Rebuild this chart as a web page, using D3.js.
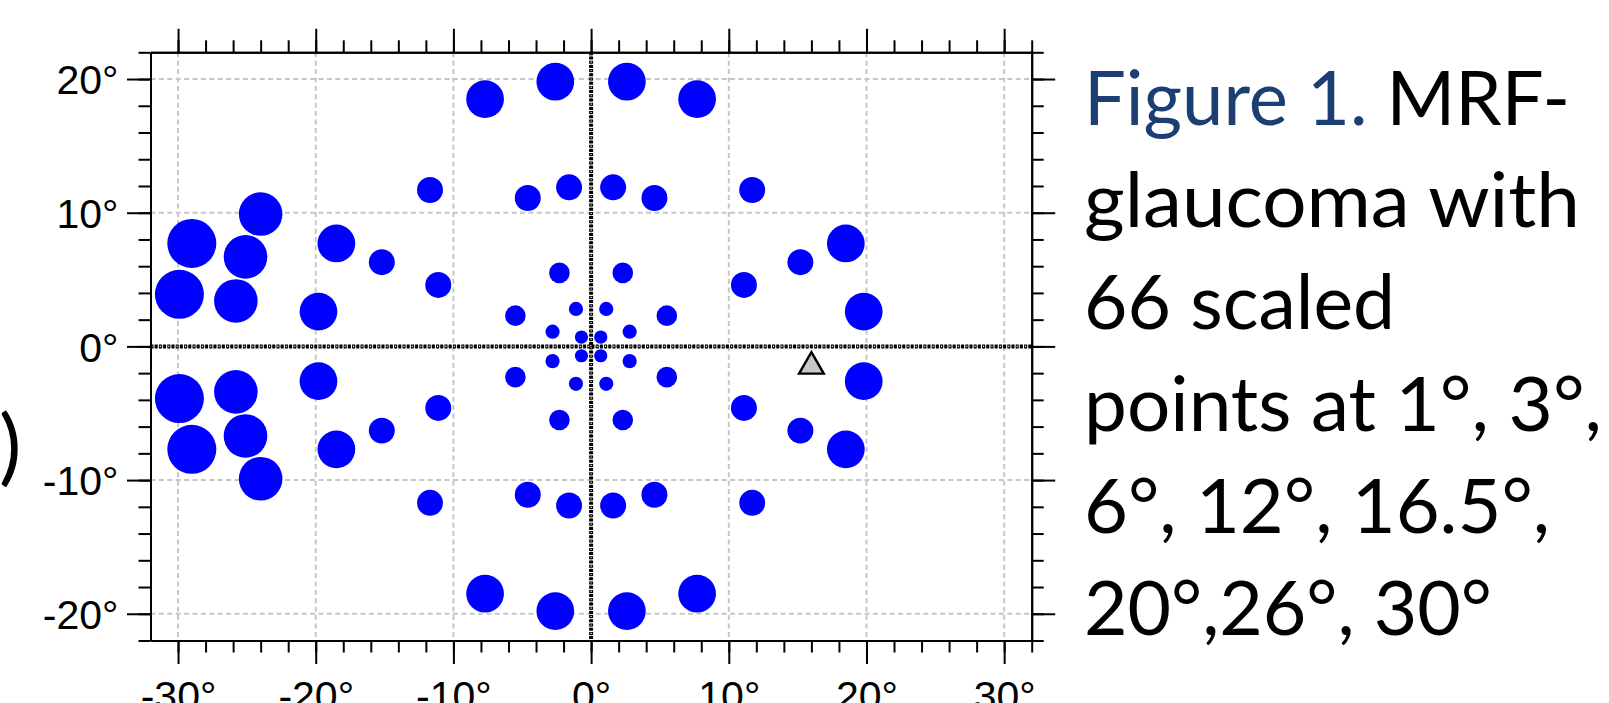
<!DOCTYPE html>
<html><head><meta charset="utf-8">
<script src="https://cdn.jsdelivr.net/npm/d3@7"></script>
<style>html,body{margin:0;padding:0;background:#fff;overflow:hidden}</style>
</head><body>
<svg id="chart" width="1609" height="703"></svg>
<script>
// ---- data ----
const ptX = [
  0.7,-0.7,-0.7,0.7,
  2.8,1.1,-1.1,-2.8,-2.8,-1.1,1.1,2.8,
  5.5,2.3,-2.3,-5.5,-5.5,-2.3,2.3,5.5,
  11.1,4.6,1.6,-1.6,-4.6,-11.1,-11.1,-4.6,-1.6,1.6,4.6,11.1,
  11.7,15.2,-11.7,-15.2,-15.2,-11.7,11.7,15.2,
  19.8,18.5,7.7,2.6,-2.6,-7.7,-18.5,-19.8,-19.8,-18.5,-7.7,-2.6,2.6,7.7,18.5,19.8,
  -24.0,-25.1,-25.8,-25.8,-25.1,-24.0,
  -29.0,-29.9,-29.9,-29.0
];
const ptY = [
  0.7,0.7,-0.7,-0.7,
  1.1,2.8,2.8,1.1,-1.1,-2.8,-2.8,-1.1,
  2.3,5.5,5.5,2.3,-2.3,-5.5,-5.5,-2.3,
  4.6,11.1,11.9,11.9,11.1,4.6,-4.6,-11.1,-11.9,-11.9,-11.1,-4.6,
  11.7,6.3,11.7,6.3,-6.3,-11.7,-11.7,-6.3,
  2.6,7.7,18.5,19.8,19.8,18.5,7.7,2.6,-2.6,-7.7,-18.5,-19.8,-19.8,-18.5,-7.7,-2.6,
  9.9,6.7,3.4,-3.4,-6.7,-9.9,
  7.7,3.9,-3.9,-7.7
];
const ptSize = [
  2.7,2.7,2.7,2.7,
  2.9,2.9,2.9,2.9,2.9,2.9,2.9,2.9,
  4.2,4.2,4.2,4.2,4.2,4.2,4.2,4.2,
  5.3,5.3,5.3,5.3,5.3,5.3,5.3,5.3,5.3,5.3,5.3,5.3,
  5.3,5.3,5.3,5.3,5.3,5.3,5.3,5.3,
  7.7,7.7,7.7,7.7,7.7,7.7,7.7,7.7,7.7,7.7,7.7,7.7,7.7,7.7,7.7,7.7,
  8.9,8.9,8.9,8.9,8.9,8.9,
  10,10,10,10
];
const markerX = [16];
const markerY = [-1.5];

const xMajorTicks = [-30,-20,-10,0,10,20,30];
const xTickLabels = ["-30°","-20°","-10°","0°","10°","20°","30°"];
const yMajorTicks = [-20,-10,0,10,20];
const yTickLabels = ["-20°","-10°","0°","10°","20°"];
const xMinorTicks = [-30,-28,-26,-24,-22,-20,-18,-16,-14,-12,-10,-8,-6,-4,-2,0,2,4,6,8,10,12,14,16,18,20,22,24,26,28,30,32];
const yMinorTicks = [-22,-20,-18,-16,-14,-12,-10,-8,-6,-4,-2,0,2,4,6,8,10,12,14,16,18,20,22];
const gridX = [-30,-20,-10,10,20,30];
const gridY = [-20,-10,10,20];
const zeroLines = [0];

const captionLines = [
  [{t:"Figure 1.", c:"#1b3f73"}, {t:" MRF-", c:"#000"}],
  [{t:"glaucoma with", c:"#000"}],
  [{t:"66 scaled", c:"#000"}],
  [{t:"points at 1°, 3°,", c:"#000"}],
  [{t:"6°, 12°, 16.5°,", c:"#000"}],
  [{t:"20°,26°, 30°", c:"#000"}]
];
const captionWidths = [486, 496, 311, 518, 466, 408];

// ---- layout ----
const svg = d3.select("#chart");
const L = 150.5, R = 1031.7, T = 52.3, B = 640.5;
const x = d3.scaleLinear().domain([-32, 32]).range([L, R]);
const y = d3.scaleLinear().domain([-22, 22]).range([B, T]);
const r = d3.scaleLinear().domain([0, 10]).range([0, 24.5]);

const gridColor = "#c6c6c6";
const g = svg.append("g");

// grid
g.selectAll(".gx").data(gridX.concat(zeroLines)).enter().append("line")
  .attr("x1", d => x(d)).attr("x2", d => x(d)).attr("y1", T).attr("y2", B)
  .attr("stroke", gridColor).attr("stroke-width", 2).attr("stroke-dasharray", "5,3.4");
g.selectAll(".gy").data(gridY.concat(zeroLines)).enter().append("line")
  .attr("y1", d => y(d)).attr("y2", d => y(d)).attr("x1", L).attr("x2", R)
  .attr("stroke", gridColor).attr("stroke-width", 2).attr("stroke-dasharray", "5,3.4");

// dotted zero lines
const zl = g.append("g");
function zeroV(sel, color, w, dash, off) {
  sel.selectAll(null).data(zeroLines).enter().append("line")
    .attr("x1", d => x(d)).attr("x2", d => x(d)).attr("y1", T).attr("y2", B)
    .attr("stroke", color).attr("stroke-width", w).attr("stroke-dasharray", dash).attr("stroke-dashoffset", off);
}
function zeroH(sel, color, w, dash, off) {
  sel.selectAll(null).data(zeroLines).enter().append("line")
    .attr("y1", d => y(d)).attr("y2", d => y(d)).attr("x1", L).attr("x2", R)
    .attr("stroke", color).attr("stroke-width", w).attr("stroke-dasharray", dash).attr("stroke-dashoffset", off);
}
zeroV(zl, "#000", 4, "3,1.2", 0);
zeroH(zl, "#000", 4, "3,1.2", 0);
zeroV(zl, "#fff", 1.2, "1.1,7.3", -0.9);
zeroH(zl, "#fff", 1.2, "1.1,7.3", -0.9);

// points
g.selectAll(".pt").data(d3.range(ptX.length)).enter().append("circle")
  .attr("cx", i => x(ptX[i])).attr("cy", i => y(ptY[i])).attr("r", i => r(ptSize[i]))
  .attr("fill", "#0000ff");

// triangle marker
g.selectAll(".tri").data(d3.range(markerX.length)).enter().append("path")
  .attr("d", d3.symbol(d3.symbolTriangle).size(265))
  .attr("transform", i => `translate(${x(markerX[i])},${y(markerY[i])})`)
  .attr("fill", "#c8c8c8").attr("stroke", "#000").attr("stroke-width", 2.4).attr("stroke-linejoin", "miter");

// axes
const fontAx = "'Liberation Sans', Arial, sans-serif";
function styleAxis(sel) {
  sel.select(".domain").attr("stroke", "#000").attr("stroke-width", 2);
  sel.selectAll(".tick line").attr("stroke", "#000").attr("stroke-width", 2);
  sel.selectAll("text").attr("font-family", fontAx).attr("font-size", 41).attr("fill", "#000");
}
const major = 23.5, minor = 12;
// top
svg.append("g").attr("transform", `translate(0,${T})`)
  .call(d3.axisTop(x).tickValues(xMinorTicks).tickSize(minor).tickSizeOuter(0).tickFormat(""))
  .call(styleAxis);
svg.append("g").attr("transform", `translate(0,${T})`)
  .call(d3.axisTop(x).tickValues(xMajorTicks).tickSize(major).tickSizeOuter(0).tickFormat(""))
  .call(styleAxis);
// bottom
svg.append("g").attr("transform", `translate(0,${B})`)
  .call(d3.axisBottom(x).tickValues(xMinorTicks).tickSize(minor).tickSizeOuter(0).tickFormat(""))
  .call(styleAxis);
svg.append("g").attr("transform", `translate(0,${B})`)
  .call(d3.axisBottom(x).tickValues(xMajorTicks).tickSize(major).tickSizeOuter(0).tickPadding(17)
    .tickFormat((d, i) => xTickLabels[i]))
  .call(styleAxis);
// left
svg.append("g").attr("transform", `translate(${L},0)`)
  .call(d3.axisLeft(y).tickValues(yMinorTicks).tickSize(minor).tickSizeOuter(0).tickFormat(""))
  .call(styleAxis);
const la = svg.append("g").attr("transform", `translate(${L},0)`)
  .call(d3.axisLeft(y).tickValues(yMajorTicks).tickSize(major).tickSizeOuter(0).tickPadding(8.5)
    .tickFormat((d, i) => yTickLabels[i]))
  .call(styleAxis);
la.selectAll("text").attr("dy", "0.36em");
// right
svg.append("g").attr("transform", `translate(${R},0)`)
  .call(d3.axisRight(y).tickValues(yMinorTicks).tickSize(minor).tickSizeOuter(0).tickFormat(""))
  .call(styleAxis);
svg.append("g").attr("transform", `translate(${R},0)`)
  .call(d3.axisRight(y).tickValues(yMajorTicks).tickSize(major).tickSizeOuter(0).tickFormat(""))
  .call(styleAxis);

// caption
const capFont = "Lato, 'Open Sans', sans-serif";
const capX = 1084, capY0 = 125, capStep = 102;
captionLines.forEach((line, i) => {
  const t = svg.append("text")
    .attr("x", capX).attr("y", capY0 + i * capStep)
    .attr("font-family", capFont).attr("font-size", 76)
    .attr("textLength", captionWidths[i]).attr("lengthAdjust", "spacingAndGlyphs")
    .style("white-space", "pre");
  line.forEach(s => t.append("tspan").attr("fill", s.c).text(s.t));
});

// fragment of neighbouring panel label at left edge
svg.append("text").attr("x", -1).attr("y", 475)
  .attr("font-family", capFont).attr("font-size", 84).attr("fill", "#000").text(")");
</script>
</body></html>
